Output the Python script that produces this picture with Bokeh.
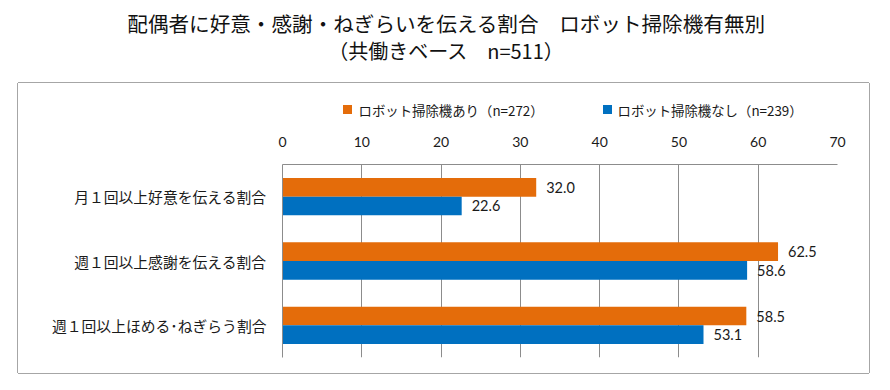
from bokeh.plotting import figure
from bokeh.layouts import column
from bokeh.models import (ColumnDataSource, Range1d, FactorRange, FixedTicker, LabelSet,
                          LinearAxis, CategoricalAxis)
from bokeh.core.properties import value
from bokeh.transform import dodge
from bokeh.embed import file_html
from bokeh.resources import INLINE

# ---- data ----
categories = ["月１回以上好意を伝える割合", "週１回以上感謝を伝える割合", "週１回以上ほめる･ねぎらう割合"]
with_robot = [32.0, 62.5, 58.5]
without_robot = [22.6, 58.6, 53.1]
series_names = ["ロボット掃除機あり（n=272）", "ロボット掃除機なし（n=239）"]
x_ticks = [0, 10, 20, 30, 40, 50, 60, 70]
title_lines = ["配偶者に好意・感謝・ねぎらいを伝える割合　ロボット掃除機有無別", "（共働きベース　n=511）"]

ORANGE = "#E46C0A"
BLUE = "#0070C0"
GRID = "#8C8C8C"
BORDER = "#A6A6A6"
TXT = "#1a1a1a"
JP = "Noto Sans CJK JP"
NUM = "Lato"

BOX_W = 851
FRAME_L, FRAME_R = 264, 32
LEG_H, CHART_H = 38, 252


def blank(w, h, left=0, right=0, **kw):
    f = figure(width=w, height=h, output_backend="svg", toolbar_location=None,
               x_range=Range1d(left, w - right), y_range=Range1d(h, 0),
               x_axis_location=None, y_axis_location=None,
               min_border_left=left, min_border_right=right, min_border_top=0, min_border_bottom=0,
               **kw)
    f.outline_line_color = None
    f.xgrid.visible = False
    f.ygrid.visible = False
    return f


# ---- title ----
pt = blank(888, 82)
pt.text(x=[446], y=[22], text=title_lines[:1], text_align="center",
        text_baseline="middle", text_font=value(JP), text_font_size="20.6px", text_color="#111111")
pt.text(x=[446], y=[50], text=title_lines[1:], text_align="center",
        text_baseline="middle", text_font=value(JP), text_font_size="20px", text_color="#111111")

# ---- legend strip (top of the bordered box; frame aligned with chart frame) ----
pl = blank(BOX_W, LEG_H, FRAME_L, FRAME_R, margin=(1, 1, 0, 18),
           styles={"box-shadow": f"-1px 0 0 0 {BORDER}, 1px 0 0 0 {BORDER}, 0 -1px 0 0 {BORDER}"})
pl.rect(x=[329, 589], y=[26, 26], width=9, height=9, fill_color=[ORANGE, BLUE], line_color=None)
pl.text(x=[340, 599], y=[26, 26], text=series_names, text_baseline="middle",
        text_font=value(JP), text_font_size="13.4px", text_color=TXT)

# ---- chart ----
src = ColumnDataSource(dict(
    cat=categories,
    a=with_robot,
    b=without_robot,
    a_lbl=[f"{v:.1f}" for v in with_robot],
    b_lbl=[f"{v:.1f}" for v in without_robot],
))

p = figure(width=BOX_W, height=CHART_H, output_backend="svg", toolbar_location=None,
           x_range=Range1d(0, 70), y_range=FactorRange(*reversed(categories)),
           x_axis_location=None, y_axis_location=None,
           min_border_left=FRAME_L, min_border_right=FRAME_R, min_border_top=43, min_border_bottom=16,
           margin=(0, 1, 1, 18),
           styles={"box-shadow": f"-1px 0 0 0 {BORDER}, 1px 0 0 0 {BORDER}, 0 1px 0 0 {BORDER}"})
p.outline_line_color = None

xa = LinearAxis(ticker=FixedTicker(ticks=x_ticks))
xa.axis_line_color = GRID
xa.major_tick_line_color = None
xa.minor_tick_line_color = None
xa.major_label_standoff = 12
xa.major_label_text_font = NUM
xa.major_label_text_font_size = "14px"
xa.major_label_text_color = TXT
p.add_layout(xa, "above")

ya = CategoricalAxis()
ya.axis_line_color = GRID
ya.major_tick_line_color = None
ya.minor_tick_line_color = None
ya.major_label_standoff = 10
ya.major_label_text_font = JP
ya.major_label_text_font_size = "14.8px"
ya.major_label_text_color = TXT
p.add_layout(ya, "left")

p.xgrid.ticker = FixedTicker(ticks=x_ticks)
p.xgrid.grid_line_color = GRID
p.ygrid.grid_line_color = None

p.hbar(y=dodge("cat", 0.145, range=p.y_range), right="a", left=0, height=0.29,
       source=src, fill_color=ORANGE, line_color=None)
p.hbar(y=dodge("cat", -0.145, range=p.y_range), right="b", left=0, height=0.29,
       source=src, fill_color=BLUE, line_color=None)

for col, off in (("a", 0.145), ("b", -0.145)):
    p.add_layout(LabelSet(x=col, y=dodge("cat", off, range=p.y_range), text=col + "_lbl",
                          source=src, x_offset=10, text_baseline="middle",
                          text_font=value(NUM), text_font_size=value("14.5px"),
                          text_color=value(TXT)))

layout = column(pt, column(pl, p))

open("out.html", "w").write(file_html(layout, INLINE))
